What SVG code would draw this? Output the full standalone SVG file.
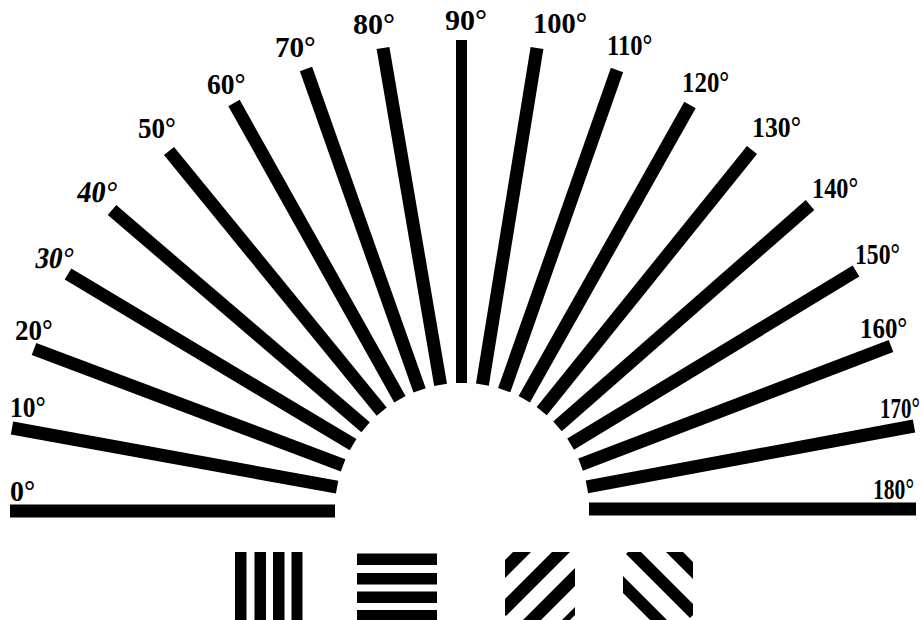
<svg xmlns="http://www.w3.org/2000/svg" width="922" height="620" viewBox="0 0 922 620">
<style>
.bar{stroke:#000;stroke-width:13;stroke-linecap:butt;fill:none}
.lbl{font-family:"Liberation Serif","DejaVu Serif",serif;font-weight:bold;font-size:30px;fill:#000}
</style>
<defs>
<clipPath id="clipA"><polygon points="510,552 570,552 575,557 575,615 570,620 510,620 505,615 505,557"/></clipPath>
<clipPath id="clipB"><polygon points="628,552 688,552 693,557 693,615 688,620 628,620 623,615 623,557"/></clipPath>
</defs>
<rect width="922" height="620" fill="#fff"/>
<g id="fan">
<g id="a0"><line class="bar" x1="10" y1="511" x2="335" y2="511"/><text class="lbl" transform="translate(10,501) scale(0.93,1)">0°</text></g>
<g id="a10"><line class="bar" x1="12" y1="428" x2="337.1" y2="487.2"/><text class="lbl" transform="translate(10,417) scale(0.85,1)">10°</text></g>
<g id="a20"><line class="bar" x1="34" y1="349" x2="343.1" y2="465.3"/><text class="lbl" transform="translate(15,340) scale(0.9,1)">20°</text></g>
<g id="a30"><line class="bar" x1="68" y1="274" x2="353.1" y2="444.7"/><text class="lbl" transform="translate(34,268) skewX(-10) scale(0.9,1)">30°</text></g>
<g id="a40"><line class="bar" x1="112" y1="210" x2="365.6" y2="427.3"/><text class="lbl" transform="translate(76,202) skewX(-8) scale(0.95,1)">40°</text></g>
<g id="a50"><line class="bar" x1="169" y1="151" x2="381.7" y2="411.6"/><text class="lbl" transform="translate(138,138) scale(0.9,1)">50°</text></g>
<g id="a60"><line class="bar" x1="234" y1="103" x2="399.9" y2="399.2"/><text class="lbl" transform="translate(207,94) scale(0.92,1)">60°</text></g>
<g id="a70"><line class="bar" x1="306" y1="69" x2="419.6" y2="390.3"/><text class="lbl" transform="translate(275,57) scale(0.97,1)">70°</text></g>
<g id="a80"><line class="bar" x1="383" y1="48" x2="440.6" y2="384.8"/><text class="lbl" transform="translate(353,34) scale(1,1)">80°</text></g>
<g id="a90"><line class="bar" style="stroke-width:11" x1="461.5" y1="40" x2="461.5" y2="383"/><text class="lbl" transform="translate(445,30) scale(1,1)">90°</text></g>
<g id="a100"><line class="bar" x1="537" y1="48" x2="482.4" y2="384.6"/><text class="lbl" transform="translate(533,33) scale(0.95,1)">100°</text></g>
<g id="a110"><line class="bar" x1="617" y1="70" x2="504.2" y2="390.2"/><text class="lbl" transform="translate(607,55) scale(0.82,1)">110°</text></g>
<g id="a120"><line class="bar" x1="690" y1="105" x2="524.3" y2="399.3"/><text class="lbl" transform="translate(682,92) scale(0.83,1)">120°</text></g>
<g id="a130"><line class="bar" x1="752" y1="150" x2="541.7" y2="411.1"/><text class="lbl" transform="translate(752,137) scale(0.86,1)">130°</text></g>
<g id="a140"><line class="bar" x1="810" y1="205" x2="557.5" y2="426.3"/><text class="lbl" transform="translate(812,198) scale(0.81,1)">140°</text></g>
<g id="a150"><line class="bar" x1="856" y1="271" x2="570.6" y2="444.1"/><text class="lbl" transform="translate(855,264) scale(0.79,1)">150°</text></g>
<g id="a160"><line class="bar" x1="891" y1="346" x2="580.6" y2="464.6"/><text class="lbl" transform="translate(860,338) scale(0.83,1)">160°</text></g>
<g id="a170"><line class="bar" x1="914" y1="426" x2="586.9" y2="486.8"/><text class="lbl" transform="translate(880,418) scale(0.7,1)">170°</text></g>
<g id="a180"><line class="bar" x1="589" y1="509" x2="916" y2="509"/><text class="lbl" transform="translate(873,499) scale(0.72,1)">180°</text></g>
</g>
<g id="connectors"/>
<g id="vertical-grating">
<rect x="235" y="552" width="11.5" height="68"/>
<rect x="254.5" y="552" width="11.5" height="68"/>
<rect x="273" y="552" width="11.5" height="68"/>
<rect x="291.5" y="552" width="11" height="68"/>
</g>
<g id="horizontal-grating">
<rect x="357" y="553.5" width="80" height="11.5"/>
<rect x="357" y="573" width="80" height="11.5"/>
<rect x="357" y="591.5" width="80" height="11.5"/>
<rect x="357" y="610" width="80" height="10"/>
</g>
<g id="oblique-grating-right" clip-path="url(#clipA)">
<polygon points="495,570 585,480 585,498 495,588"/>
<polygon points="495,609 585,519 585,537 495,627"/>
<polygon points="495,648 585,558 585,576 495,666"/>
<polygon points="495,687 585,597 585,615 495,705"/>
</g>
<g id="oblique-grating-left" clip-path="url(#clipB)">
<polygon points="613,499 703,589 703,572 613,482"/>
<polygon points="613,541 703,631 703,614 613,524"/>
<polygon points="613,583 703,673 703,656 613,566"/>
<polygon points="613,625 703,715 703,698 613,608"/>
</g>
</svg>
